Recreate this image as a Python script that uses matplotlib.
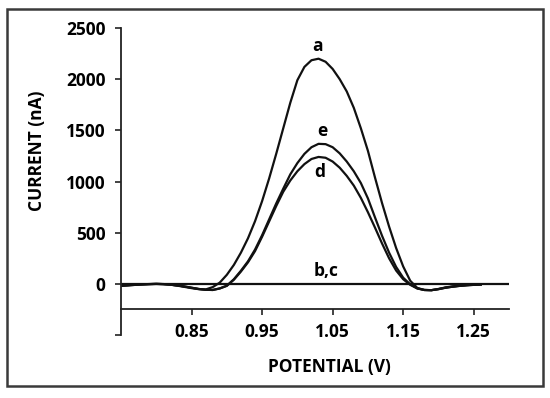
import matplotlib
matplotlib.use("Agg")
import matplotlib.pyplot as plt
from matplotlib.patches import Rectangle

plt.rcParams['font.family'] = ['Open Sans', 'DejaVu Sans']

potential = [0.75, 0.76, 0.77, 0.78, 0.79, 0.80, 0.81, 0.82, 0.83, 0.84,
             0.85, 0.86, 0.87, 0.88, 0.89, 0.90, 0.91, 0.92, 0.93, 0.94,
             0.95, 0.96, 0.97, 0.98, 0.99, 1.00, 1.01, 1.02, 1.03, 1.04,
             1.05, 1.06, 1.07, 1.08, 1.09, 1.10, 1.11, 1.12, 1.13, 1.14,
             1.15, 1.16, 1.17, 1.18, 1.19, 1.20, 1.21, 1.22, 1.23, 1.24,
             1.25, 1.26]

curve_a = [-15, -12, -8, -5, -2, 0, -2, -8, -18, -30,
           -42, -52, -55, -32, 12, 88, 185, 305, 445, 612,
           808, 1030, 1270, 1520, 1770, 1990, 2120, 2185, 2200, 2170,
           2100, 2000, 1880, 1720, 1520, 1300, 1040, 790, 560, 350,
           170, 30, -40, -60, -62, -50, -35, -25, -18, -12,
           -8, -5]

curve_d = [-20, -15, -10, -6, -3, -1, -3, -8, -16, -26,
           -38, -50, -58, -60, -45, -20, 40, 120, 210, 320,
           460, 610, 760, 900, 1010, 1100, 1170, 1220, 1240, 1232,
           1195, 1135, 1055, 960, 840, 700, 550, 395, 250, 130,
           45, -10, -45, -60, -62, -52, -38, -28, -20, -14,
           -10, -7]

curve_e = [-20, -15, -10, -6, -3, -1, -3, -8, -16, -26,
           -38, -50, -58, -60, -45, -18, 45, 128, 220, 335,
           475, 630, 785, 930, 1070, 1180, 1270, 1335, 1368, 1365,
           1335, 1275, 1195, 1100, 985, 835, 650, 470, 305, 165,
           60, -5, -45, -60, -62, -52, -38, -28, -20, -14,
           -10, -7]

potential_bc = [0.75, 1.30]
curve_bc = [0, 0]

xticks = [0.85, 0.95, 1.05, 1.15, 1.25]
xtick_labels = ['0.85', '0.95', '1.05', '1.15', '1.25']
yticks = [-500, 0, 500, 1000, 1500, 2000, 2500]
ytick_labels = ['', '0', '500', '1000', '1500', '2000', '2500']

W, H = 550, 398
FS = 12.5
fig = plt.figure(figsize=(W / 100, H / 100), dpi=100)
fig.patch.set_facecolor('white')

# outer chart border
fig.patches.append(Rectangle((7 / W, 1 - 386 / H), (543 - 7) / W, (386 - 9) / H,
                             transform=fig.transFigure, fill=False,
                             edgecolor='#3a3a3a', linewidth=1.8))

ax = fig.add_axes([121 / W, 1 - 335 / H, (509 - 121) / W, (335 - 28) / H])
ax.set_facecolor('none')

lc = '#111111'
lw = 1.6
ax.plot(potential_bc, curve_bc, color=lc, lw=lw)
ax.plot(potential, curve_a, color=lc, lw=lw)
ax.plot(potential, curve_d, color=lc, lw=lw)
ax.plot(potential, curve_e, color=lc, lw=lw)

ax.set_xlim(0.75, 1.30)
ax.set_ylim(-500, 2500)

ax.spines['top'].set_visible(False)
ax.spines['right'].set_visible(False)
ax.spines['bottom'].set_position(('data', -250))
for s in ('left', 'bottom'):
    ax.spines[s].set_color('#222222')
    ax.spines[s].set_linewidth(1.3)

ax.set_xticks(xticks)
ax.set_xticklabels(xtick_labels)
ax.set_yticks(yticks)
ax.set_yticklabels(ytick_labels)
ax.tick_params(axis='both', direction='out', length=4, width=1.2, color='#222222',
               labelsize=FS)
ax.tick_params(axis='x', pad=6)
ax.tick_params(axis='y', pad=7)
for lab in ax.get_xticklabels() + ax.get_yticklabels():
    lab.set_fontweight('bold')

fig.text(329 / W, 1 - 367 / H, 'POTENTIAL (V)', ha='center', va='center',
         fontsize=FS, fontweight='bold')
fig.text(37 / W, 1 - 151 / H, 'CURRENT (nA)', ha='center', va='center',
         rotation=90, fontsize=FS, fontweight='bold')

ax.text(1.028, 2320, 'a', ha='center', va='center', fontsize=FS, fontweight='bold')
ax.text(1.035, 1490, 'e', ha='center', va='center', fontsize=FS, fontweight='bold')
ax.text(1.032, 1090, 'd', ha='center', va='center', fontsize=FS, fontweight='bold')
ax.text(1.04, 130, 'b,c', ha='center', va='center', fontsize=FS, fontweight='bold')

fig.savefig('out.png', dpi=100)
